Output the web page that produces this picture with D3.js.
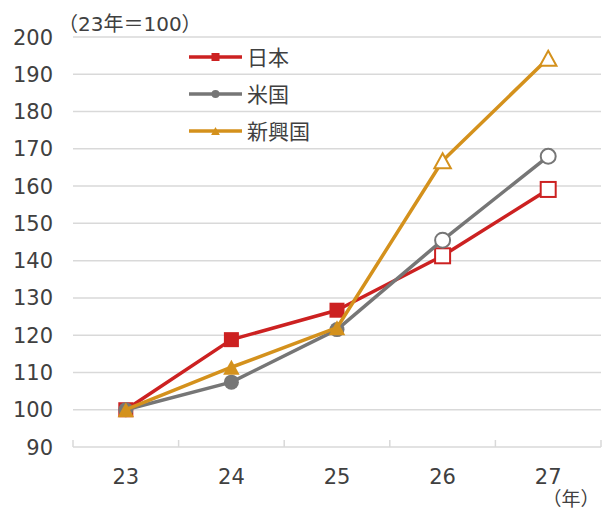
<!DOCTYPE html>
<html>
<head>
<meta charset="utf-8">
<script src="https://cdn.jsdelivr.net/npm/d3@7"></script>
<style>
  body { margin: 0; background: #fff; }
  text { font-family: "DejaVu Sans", "Noto Sans CJK JP", sans-serif; fill: #404040; }
</style>
</head>
<body>
<svg id="chart" width="613" height="509"></svg>
<script>
// 指数（23年=100）
const years = ["23", "24", "25", "26", "27"];
const japan    = [100, 118.8, 126.7, 141.3, 159.1];
const usa      = [100, 107.4, 121.5, 145.5, 168.0];
const emerging = [100, 111.4, 122.0, 166.8, 194.3];
const yTicks = [90, 100, 110, 120, 130, 140, 150, 160, 170, 180, 190, 200];
const forecastFrom = 3; // 26, 27 are hollow

const SERIES = [
    { name: "日本",   values: japan,    color: "#cc2121", shape: "square" },
    { name: "米国",   values: usa,      color: "#767676", shape: "circle" },
    { name: "新興国", values: emerging, color: "#d4911c", shape: "triangle" },
];

const svg = d3.select("#chart");
const plotL = 73, plotR = 601, plotT = 37, plotB = 447;

const x = d3.scaleBand().domain(years).range([plotL, plotR]).padding(0);
const cx = d => x(d) + x.bandwidth() / 2;
const y = d3.scaleLinear().domain([90, 200]).range([plotB, plotT]);

// Gridlines
svg.append("g")
    .selectAll("line")
    .data(yTicks.filter(t => t > 90))
    .join("line")
    .attr("x1", plotL).attr("x2", plotR)
    .attr("y1", d => y(d)).attr("y2", d => y(d))
    .attr("stroke", "#d9d9d9")
    .attr("stroke-width", 1.5);

// Y labels
svg.append("g")
    .selectAll("text")
    .data(yTicks)
    .join("text")
    .attr("x", 53)
    .attr("y", d => y(d))
    .attr("dy", "0.36em")
    .attr("text-anchor", "end")
    .attr("font-size", "21px")
    .text(d => d);

// X axis line + ticks
svg.append("line")
    .attr("x1", plotL).attr("x2", plotR)
    .attr("y1", plotB).attr("y2", plotB)
    .attr("stroke", "#d9d9d9").attr("stroke-width", 1.5);

const bounds = years.map(d => x(d)).concat([plotR]);
svg.append("g")
    .selectAll("line")
    .data(bounds)
    .join("line")
    .attr("x1", d => d).attr("x2", d => d)
    .attr("y1", plotB - 7).attr("y2", plotB)
    .attr("stroke", "#d9d9d9").attr("stroke-width", 1.5);

svg.append("g")
    .selectAll("text")
    .data(years)
    .join("text")
    .attr("x", d => cx(d))
    .attr("y", 476)
    .attr("dy", "0.36em")
    .attr("text-anchor", "middle")
    .attr("font-size", "21px")
    .text(d => d);

svg.append("text")
    .attr("x", 571).attr("y", 499)
    .attr("dy", "0.36em")
    .attr("text-anchor", "middle")
    .attr("font-size", "19px")
    .text("（年）");

svg.append("text")
    .attr("x", 58).attr("y", 24)
    .attr("dy", "0.36em")
    .attr("font-size", "20px")
    .text("（23年＝100）");

// Marker drawing
function marker(sel, shape, size, color, hollow) {
    const fill = hollow ? "#fff" : color;
    const sw = hollow ? 2 : 0;
    if (shape === "square") {
        sel.append("rect")
            .attr("x", -size / 2).attr("y", -size / 2)
            .attr("width", size).attr("height", size)
            .attr("fill", fill).attr("stroke", color).attr("stroke-width", sw);
    } else if (shape === "circle") {
        sel.append("circle")
            .attr("r", size / 2)
            .attr("fill", fill).attr("stroke", color).attr("stroke-width", sw);
    } else {
        const w = size * 1.1;
        sel.append("path")
            .attr("d", `M0,${-size / 2}L${w / 2},${size / 2}L${-w / 2},${size / 2}Z`)
            .attr("fill", fill).attr("stroke", color).attr("stroke-width", sw);
    }
}

const line = d3.line().x((d, i) => cx(years[i])).y(d => y(d));

SERIES.forEach(s => {
    const g = svg.append("g");
    g.append("path")
        .datum(s.values)
        .attr("d", line)
        .attr("fill", "none")
        .attr("stroke", s.color)
        .attr("stroke-width", 3.5)
        .attr("stroke-linejoin", "round");

    g.selectAll("g.pt")
        .data(s.values)
        .join("g")
        .attr("class", "pt")
        .attr("transform", (d, i) => `translate(${cx(years[i])},${y(d)})`)
        .each(function (d, i) {
            const hollow = i >= forecastFrom;
            marker(d3.select(this), s.shape, 15, s.color, hollow);
        });
});

// Legend
const legend = svg.append("g");
SERIES.forEach((s, i) => {
    const ly = 57 + i * 37;
    const item = legend.append("g");
    item.append("line")
        .attr("x1", 189).attr("x2", 242)
        .attr("y1", ly).attr("y2", ly)
        .attr("stroke", s.color).attr("stroke-width", 3.5);
    const m = item.append("g").attr("transform", `translate(215.5,${ly})`);
    marker(m, s.shape, 8, s.color, false);
    item.append("text")
        .attr("x", 247).attr("y", ly)
        .attr("dy", "0.36em")
        .attr("font-size", "21px")
        .text(s.name);
});
</script>
</body>
</html>
